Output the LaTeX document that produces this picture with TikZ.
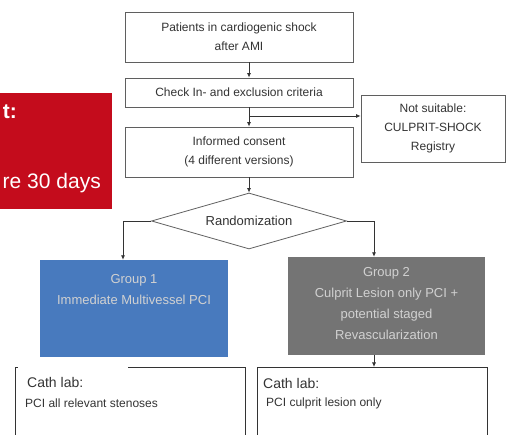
\documentclass[tikz,border=0pt]{standalone}
\usepackage{fontspec}
\setmainfont{Liberation Sans}
\usetikzlibrary{arrows.meta,shapes.geometric}
\definecolor{slidered}{RGB}{196,12,28}
\definecolor{groupblue}{RGB}{72,122,190}
\definecolor{groupgray}{RGB}{116,116,116}
\definecolor{linegray}{RGB}{95,95,95}

\begin{document}
\begin{tikzpicture}[x=1pt,y=-1pt,
  box/.style={draw=linegray,line width=0.8pt,fill=white,inner sep=0pt,align=center,
    text=black!80,font=\fontsize{12}{19}\selectfont},
  groupbox/.style={inner sep=0pt,minimum width=#1},
  grouptext/.style={align=center,inner sep=0pt,text=white!82!black,font=\fontsize{13}{21}\selectfont},
  cathbox/.style={anchor=north west,inner sep=0pt,minimum width=230pt,minimum height=90pt},
  arr/.style={draw=black!80,line width=0.8pt,-{Latex[length=4.5pt,width=4pt]}},
  line/.style={draw=black!80,line width=0.8pt}]
\useasboundingbox (0,0) rectangle (506,435);
\clip (0,0) rectangle (506,435);

% left panel of the slide
\node[fill=slidered,anchor=north west,inner sep=0pt,minimum width=112pt,minimum height=116pt] (endpoint) at (0,93) {};
\node[anchor=east,inner sep=0pt,text=white,font=\fontsize{21}{21}\selectfont\bfseries] (endtop) at (17,112) {t:};
\node[anchor=east,inner sep=0pt,text=white,font=\fontsize{21}{21}\selectfont] (endbot) at (101,183) {re 30 days};

% flow chart
\node[box,minimum width=228pt,minimum height=50pt] (patients) at (239,37) {Patients in cardiogenic shock\\after AMI};
\node[box,minimum width=228pt,minimum height=29pt] (check) at (239,92.5) {Check In- and exclusion criteria};
\node[box,minimum width=228pt,minimum height=50pt] (consent) at (239,152) {Informed consent\\(4 different versions)};
\node[box,minimum width=144pt,minimum height=67pt] (notsuit) at (433,128.5) {Not suitable:\\CULPRIT-SHOCK\\Registry};
\node[box,diamond,aspect=3.5,minimum width=195pt,minimum height=56pt,font=\fontsize{13}{13}\selectfont] (rand) at (249,221) {Randomization};

\node[groupbox=188pt,minimum height=97pt,fill=groupblue] (group1) at (134,308.5) {};
\node[grouptext] (group1txt) at (134,290) {Group 1\\Immediate Multivessel PCI};
\node[groupbox=197pt,minimum height=98pt,fill=groupgray] (group2) at (386.5,306) {};
\node[grouptext] (group2txt) at (386.5,303.5) {Group 2\\Culprit Lesion only PCI +\\potential staged\\Revascularization};

\node[cathbox] (cath1) at (15,367) {};
\node[cathbox] (cath2) at (257,367) {};
\draw[line] (cath1.south west) -- (cath1.north west) -- ++(3,0);
\draw[line] (128,367) -- (cath1.north east) -- (cath1.south east);
\draw[line] (cath2.south west) rectangle (cath2.north east);
\node[anchor=west,inner sep=0pt,text=black!80,font=\fontsize{14}{14}\selectfont] (lab1) at (27,382) {Cath lab:};
\node[anchor=west,inner sep=0pt,text=black!80,font=\fontsize{12}{12}\selectfont] (pci1) at (25,403) {PCI all relevant stenoses};
\node[anchor=west,inner sep=0pt,text=black!80,font=\fontsize{14}{14}\selectfont] (lab2) at (263,383) {Cath lab:};
\node[anchor=west,inner sep=0pt,text=black!80,font=\fontsize{12}{12}\selectfont] (pci2) at (266,403) {PCI culprit lesion only};

% connectors
\coordinate (branch) at (249,116);
\coordinate (left) at (123,221);
\coordinate (right) at (374,221);
\draw[arr] (patients.south -| rand) -- (check.north -| rand);
\draw[arr] (check.south -| rand) -- (consent.north -| rand);
\draw[arr] (branch) -- (notsuit.west |- branch);
\draw[arr] (consent.south -| rand) -- (rand.north);
\draw[arr] (rand.west) -- (left) -- (group1.north -| left);
\draw[arr] (rand.east) -- (right) -- (group2.north -| right);
\draw[arr] (group2.south -| right) -- (cath2.north -| right);
\end{tikzpicture}
\end{document}
